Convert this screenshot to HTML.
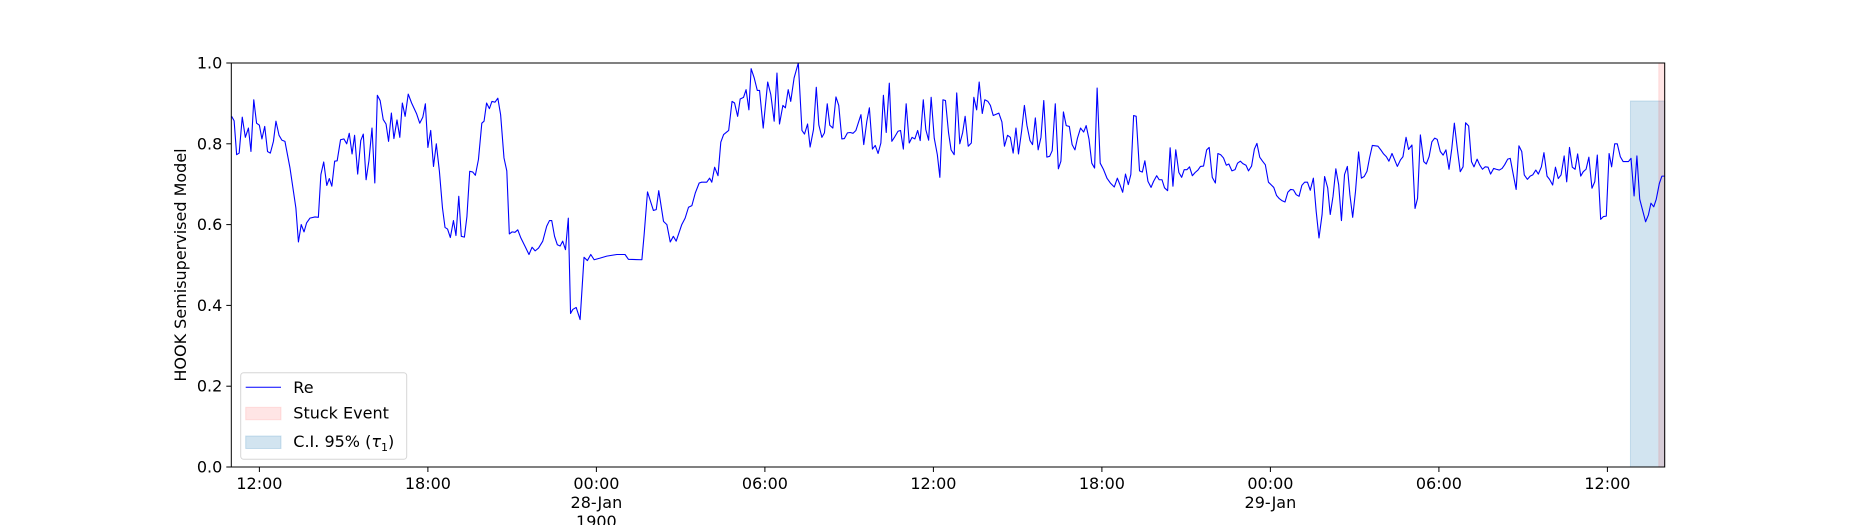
<!DOCTYPE html>
<html><head><meta charset="utf-8">
<style>
html,body{margin:0;padding:0;background:#fff;}
svg{display:block;font-family:"DejaVu Sans","Liberation Sans",sans-serif;}
</style></head>
<body>
<svg id="chart" width="1850" height="525" viewBox="0 0 1850 525" xmlns="http://www.w3.org/2000/svg">
<rect x="0" y="0" width="1850" height="525" fill="#fff"/>
<g id="bands"></g>
<g id="series"></g>
<g id="axes"></g>
<g id="legend">
  <rect x="240.7" y="372.7" width="166" height="86.6" rx="3" fill="#fff" fill-opacity="0.8" stroke="#d6d6d6" stroke-width="1"/>
  <line x1="245.7" y1="387.3" x2="281" y2="387.3" stroke="#0000ff" stroke-width="1"/>
  <text x="293.3" y="393" font-size="16" fill="#000">Re</text>
  <rect x="245.7" y="407.3" width="35.3" height="12.5" fill="#ff0000" fill-opacity="0.1" stroke="#ff0000" stroke-opacity="0.1"/>
  <text x="293.3" y="418.5" font-size="16" fill="#000">Stuck Event</text>
  <rect x="245.7" y="436" width="35.3" height="12.5" fill="#1f77b4" fill-opacity="0.2" stroke="#1f77b4" stroke-opacity="0.2"/>
  <text x="293.3" y="447" font-size="16" fill="#000">C.I. 95% (<tspan font-style="italic">τ</tspan><tspan font-size="11" dy="4">1</tspan><tspan dy="-4">)</tspan></text>
</g>
</svg>
<script>
// hours since 27-Jan 00:00
const times = [11.01,11.10,11.19,11.28,11.39,11.50,11.61,11.70,11.80,11.90,12.00,12.09,12.19,12.29,12.39,12.50,12.59,12.70,12.80,12.91,13.09,13.30,13.39,13.49,13.59,13.68,13.80,13.98,14.10,14.19,14.29,14.40,14.49,14.58,14.68,14.77,14.89,15.01,15.11,15.20,15.30,15.39,15.50,15.61,15.70,15.80,15.90,16.01,16.11,16.20,16.30,16.41,16.51,16.60,16.70,16.79,16.90,17.00,17.09,17.19,17.30,17.42,17.60,17.71,17.82,17.91,18.00,18.10,18.20,18.30,18.41,18.52,18.61,18.70,18.80,18.91,19.00,19.10,19.19,19.30,19.39,19.49,19.60,19.69,19.80,19.92,20.00,20.09,20.19,20.28,20.39,20.49,20.59,20.71,20.81,20.90,21.00,21.10,21.20,21.31,21.46,21.60,21.71,21.82,21.94,22.09,22.23,22.33,22.41,22.51,22.61,22.71,22.80,22.90,23.00,23.08,23.16,23.28,23.42,23.56,23.68,23.80,23.92,24.13,24.37,24.73,25.02,25.14,25.62,25.70,25.82,26.03,26.13,26.22,26.39,26.51,26.63,26.74,26.84,27.04,27.16,27.28,27.40,27.52,27.66,27.75,27.93,28.03,28.11,28.21,28.33,28.43,28.53,28.71,28.83,28.92,29.03,29.12,29.24,29.33,29.43,29.51,29.62,29.73,29.81,29.94,30.10,30.21,30.33,30.43,30.52,30.64,30.73,30.83,30.92,31.04,31.19,31.32,31.41,31.52,31.61,31.73,31.83,31.92,32.03,32.12,32.22,32.31,32.42,32.53,32.63,32.74,32.83,32.94,33.04,33.14,33.24,33.42,33.52,33.63,33.72,33.83,33.93,34.03,34.13,34.22,34.32,34.43,34.52,34.63,34.74,34.83,34.93,35.03,35.14,35.24,35.34,35.44,35.53,35.64,35.73,35.83,35.92,36.03,36.14,36.23,36.34,36.43,36.54,36.63,36.74,36.83,36.94,37.04,37.13,37.24,37.35,37.44,37.54,37.63,37.74,37.83,37.94,38.03,38.13,38.33,38.44,38.53,38.64,38.74,38.84,38.94,39.03,39.14,39.24,39.33,39.44,39.53,39.63,39.73,39.83,39.93,40.04,40.14,40.23,40.34,40.45,40.54,40.63,40.73,40.84,40.94,41.04,41.13,41.24,41.35,41.44,41.54,41.64,41.74,41.83,41.94,42.06,42.18,42.30,42.44,42.55,42.64,42.74,42.84,42.94,43.03,43.13,43.22,43.34,43.44,43.53,43.64,43.75,43.84,43.95,44.04,44.14,44.23,44.34,44.43,44.53,44.63,44.74,44.84,44.93,45.03,45.12,45.22,45.32,45.42,45.51,45.62,45.73,45.82,45.93,46.04,46.13,46.23,46.33,46.43,46.52,46.63,46.74,46.83,46.93,47.02,47.13,47.22,47.33,47.43,47.52,47.62,47.72,47.82,47.93,48.02,48.12,48.22,48.32,48.42,48.52,48.62,48.72,48.82,48.92,49.02,49.12,49.22,49.32,49.42,49.53,49.63,49.73,49.84,49.93,50.04,50.13,50.23,50.33,50.43,50.53,50.64,50.74,50.83,50.93,51.03,51.14,51.24,51.34,51.44,51.53,51.63,51.73,51.83,51.93,52.03,52.13,52.22,52.33,52.42,52.52,52.63,52.72,52.83,52.92,53.04,53.15,53.24,53.34,53.46,53.55,53.65,53.75,53.85,53.94,54.05,54.15,54.25,54.36,54.46,54.55,54.66,54.76,54.86,54.95,55.06,55.16,55.25,55.36,55.45,55.55,55.65,55.75,55.84,55.95,56.04,56.15,56.25,56.34,56.45,56.54,56.65,56.75,56.85,56.95,57.04,57.15,57.25,57.34,57.45,57.54,57.65,57.74,57.85,57.94,58.05,58.15,58.25,58.35,58.46,58.55,58.65,58.75,58.85,58.94,59.05,59.14,59.24,59.34,59.45,59.55,59.64,59.76,59.86,59.96,60.06,60.15,60.26,60.35,60.46,60.56,60.75,60.84,60.95,61.05,61.15,61.36,61.46,61.55,61.65,61.74,61.85,61.94,62.05];
const values = [0.868,0.857,0.773,0.777,0.866,0.816,0.839,0.781,0.909,0.851,0.846,0.812,0.843,0.781,0.777,0.806,0.856,0.821,0.809,0.806,0.740,0.641,0.557,0.600,0.582,0.604,0.616,0.619,0.618,0.724,0.755,0.697,0.714,0.695,0.757,0.758,0.810,0.812,0.800,0.826,0.775,0.821,0.725,0.808,0.824,0.711,0.758,0.839,0.703,0.920,0.907,0.860,0.849,0.806,0.876,0.813,0.859,0.816,0.901,0.868,0.923,0.901,0.874,0.851,0.866,0.899,0.791,0.833,0.744,0.800,0.732,0.641,0.593,0.589,0.568,0.610,0.573,0.670,0.571,0.569,0.620,0.732,0.730,0.722,0.761,0.851,0.856,0.901,0.887,0.905,0.903,0.913,0.872,0.765,0.733,0.577,0.582,0.581,0.587,0.567,0.546,0.526,0.544,0.535,0.542,0.559,0.596,0.610,0.610,0.571,0.550,0.547,0.559,0.538,0.616,0.380,0.390,0.395,0.365,0.519,0.511,0.526,0.513,0.517,0.522,0.526,0.526,0.514,0.513,0.575,0.681,0.635,0.637,0.684,0.608,0.600,0.557,0.571,0.559,0.600,0.616,0.643,0.647,0.678,0.703,0.705,0.705,0.715,0.705,0.742,0.721,0.804,0.823,0.833,0.905,0.901,0.868,0.911,0.915,0.934,0.884,0.986,0.963,0.932,0.932,0.839,0.953,0.922,0.856,0.975,0.849,0.895,0.889,0.934,0.905,0.963,1.000,0.833,0.824,0.849,0.792,0.835,0.940,0.847,0.816,0.827,0.899,0.846,0.839,0.916,0.895,0.812,0.813,0.827,0.828,0.826,0.833,0.872,0.798,0.856,0.889,0.787,0.796,0.776,0.802,0.920,0.828,0.950,0.806,0.818,0.831,0.833,0.787,0.899,0.802,0.816,0.812,0.833,0.808,0.909,0.835,0.809,0.915,0.814,0.773,0.717,0.909,0.907,0.827,0.785,0.773,0.926,0.800,0.827,0.868,0.794,0.802,0.915,0.884,0.953,0.875,0.909,0.905,0.895,0.870,0.876,0.854,0.794,0.821,0.816,0.777,0.839,0.775,0.831,0.895,0.846,0.808,0.798,0.864,0.785,0.816,0.907,0.767,0.769,0.783,0.899,0.738,0.757,0.879,0.845,0.843,0.798,0.785,0.814,0.839,0.829,0.845,0.812,0.752,0.740,0.938,0.752,0.736,0.715,0.703,0.693,0.715,0.699,0.680,0.725,0.699,0.724,0.870,0.868,0.733,0.730,0.758,0.707,0.692,0.707,0.721,0.711,0.711,0.691,0.684,0.790,0.695,0.785,0.729,0.717,0.736,0.736,0.743,0.721,0.729,0.735,0.744,0.745,0.785,0.791,0.717,0.703,0.776,0.773,0.765,0.747,0.750,0.733,0.736,0.752,0.757,0.751,0.747,0.733,0.745,0.787,0.801,0.767,0.757,0.748,0.705,0.699,0.692,0.672,0.664,0.659,0.656,0.680,0.687,0.686,0.674,0.670,0.697,0.705,0.705,0.685,0.715,0.633,0.567,0.625,0.719,0.691,0.625,0.670,0.738,0.699,0.610,0.724,0.744,0.674,0.618,0.682,0.780,0.715,0.719,0.732,0.765,0.796,0.795,0.794,0.785,0.775,0.768,0.757,0.776,0.761,0.744,0.760,0.768,0.816,0.786,0.797,0.640,0.665,0.822,0.756,0.750,0.768,0.805,0.814,0.811,0.781,0.772,0.785,0.737,0.789,0.851,0.785,0.731,0.743,0.852,0.844,0.756,0.743,0.762,0.748,0.737,0.743,0.742,0.725,0.739,0.737,0.735,0.739,0.748,0.762,0.764,0.723,0.687,0.795,0.781,0.723,0.712,0.720,0.723,0.735,0.725,0.743,0.778,0.720,0.712,0.698,0.742,0.714,0.723,0.770,0.706,0.791,0.742,0.737,0.775,0.720,0.731,0.737,0.767,0.690,0.706,0.772,0.613,0.620,0.621,0.776,0.743,0.800,0.800,0.768,0.756,0.756,0.764,0.671,0.770,0.663,0.607,0.624,0.653,0.644,0.663,0.702,0.720,0.720];
const xTickHours = [12,18,24,30,36,42,48,54,60];
const xTickLabels = ["12:00","18:00","00:00","06:00","12:00","18:00","00:00","06:00","12:00"];
const xDateLabels = {24:["28-Jan","1900"],48:["29-Jan"]};
const yTicks = [0.0,0.2,0.4,0.6,0.8,1.0];
const yTickLabels = ["0.0","0.2","0.4","0.6","0.8","1.0"];
const xDomain = [11.0, 62.04];
const ciBand = [60.82, 62.04, 0.906];
const stuckBand = [61.83, 62.04];

const NS = "http://www.w3.org/2000/svg";
const L = 231.3, R = 1664.7, T = 63, B = 467;
function xs(h){ return L + (h - xDomain[0]) / (xDomain[1] - xDomain[0]) * (R - L); }
function ys(v){ return B - v * (B - T); }
function mk(tag, attrs, parent){
  const e = document.createElementNS(NS, tag);
  for (const k in attrs) e.setAttribute(k, attrs[k]);
  parent.appendChild(e); return e;
}
const bands = document.getElementById('bands');
const ci = mk('rect', {x: xs(ciBand[0]), y: ys(ciBand[2]), width: xs(ciBand[1]) - xs(ciBand[0]), height: ys(0) - ys(ciBand[2]), fill: '#1f77b4', 'fill-opacity': 0.2, stroke: '#1f77b4', 'stroke-opacity': 0.2}, bands);


const st = mk('rect', {x: xs(stuckBand[0]), y: T, width: xs(stuckBand[1]) - xs(stuckBand[0]), height: B - T, fill: '#ff0000', 'fill-opacity': 0.1, stroke: '#ff0000', 'stroke-opacity': 0.1}, bands);



const series = document.getElementById('series');
let d = '';
for (let i = 0; i < times.length; i++) d += (i ? 'L' : 'M') + xs(times[i]).toFixed(2) + ',' + ys(values[i]).toFixed(2);
const line = mk('path', {d: d, fill: 'none', stroke: '#0000ff', 'stroke-width': 1.1, 'stroke-linejoin': 'round'}, series);



const axes = document.getElementById('axes');
const frame = mk('rect', {x: L, y: T, width: R - L, height: B - T, fill: 'none', stroke: '#000', 'stroke-width': 1}, axes);


yTicks.forEach((v, i) => {
  const y = ys(v);
  const tk = mk('line', {x1: L - 5, y1: y, x2: L, y2: y, stroke: '#000', 'stroke-width': 1}, axes);
  
  
  const t = mk('text', {x: L - 9, y: y + 5.5, 'text-anchor': 'end', 'font-size': 16, fill: '#000'}, axes);
  
  
  t.textContent = yTickLabels[i];
});
xTickHours.forEach((h, i) => {
  const x = xs(h);
  const tk = mk('line', {x1: x, y1: B, x2: x, y2: B + 5, stroke: '#000', 'stroke-width': 1}, axes);
  
  
  const t = mk('text', {x: x, y: 489, 'text-anchor': 'middle', 'font-size': 16, fill: '#000'}, axes);
  
  
  t.textContent = xTickLabels[i];
  const extra = xDateLabels[h];
  if (extra) extra.forEach((s, j) => {
    const e = mk('text', {x: x, y: 508 + j * 19, 'text-anchor': 'middle', 'font-size': 16, fill: '#000'}, axes);
    
    
    e.textContent = s;
  });
});
const yl = mk('text', {x: 0, y: 0, 'text-anchor': 'middle', 'font-size': 16, fill: '#000', transform: 'translate(186,265) rotate(-90)'}, axes);


yl.textContent = 'HOOK Semisupervised Model';
</script>
</body></html>
